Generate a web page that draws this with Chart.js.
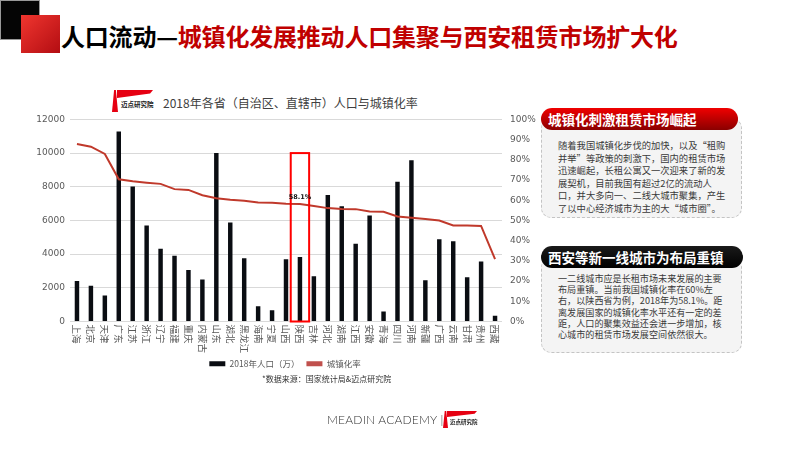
<!DOCTYPE html>
<html>
<head>
<meta charset="utf-8">
<script src="https://cdn.jsdelivr.net/npm/chart.js@4.4.0/dist/chart.umd.min.js"></script>
<style>
body{margin:0;width:800px;height:450px;position:relative;background:#fff;overflow:hidden;font-family:"Noto Sans CJK SC","Noto Sans",sans-serif}
.sq-black{position:absolute;left:0;top:0;width:40px;height:40px;background:#050505;border:1px solid #999;box-sizing:border-box}
.sq-red{position:absolute;left:21px;top:15px;width:39px;height:38px;background:linear-gradient(135deg,#f0362f,#b30d12)}
.headline{position:absolute;left:61px;top:19px;font-size:24px;font-weight:bold;line-height:34px;white-space:nowrap;color:#000;letter-spacing:-0.2px}
.headline span{color:#c00000}
.logo{position:absolute}
.logo .pole{position:absolute;background:#e60012;clip-path:polygon(35% 0,65% 0,100% 100%,0 100%)}
.logo .flag{position:absolute;background:#e60012;clip-path:polygon(0 0,100% 0,92% 45%,0 100%)}
.logo .txt{position:absolute;font-weight:bold;color:#222;white-space:nowrap}
.ctitle{position:absolute;left:163px;top:94px;font-size:12px;color:#404040;white-space:nowrap;line-height:18px}
#wrap{position:absolute;left:30px;top:106px;width:510px;height:272px}
.source{position:absolute;left:262px;top:373px;font-size:8px;color:#333;white-space:nowrap;line-height:12px}
.brand{position:absolute;left:327px;top:411px;font-family:Lato,"DejaVu Sans",sans-serif;font-weight:300;font-size:12px;color:#333;letter-spacing:0.2px;white-space:nowrap;line-height:18px}
.panel{position:absolute;left:541px;width:201px;background:#f4f4f4;border:1px dashed #c4c4c4;border-radius:10px;box-sizing:border-box}
.pill{position:absolute;left:541px;height:22px;border-radius:11px;color:#fff;font-weight:bold;font-size:13.5px;line-height:22px;padding-left:7px;box-sizing:border-box;white-space:nowrap}
.pill.red{width:197px;background:linear-gradient(180deg,#f00000,#8a0000)}
.pill.black{width:202px;background:linear-gradient(180deg,#1a1a1a,#000)}
.body{position:absolute;left:558px;color:#3a3a3a;white-space:nowrap}
</style>
</head>
<body>
<div class="sq-black"></div>
<div class="sq-red"></div>
<div class="headline">人口流动—<span>城镇化发展推动人口集聚与西安租赁市场扩大化</span></div>

<div class="logo" style="left:112px;top:89px;width:42px;height:24px">
  <div class="pole" style="left:0;top:1px;width:6px;height:22px"></div>
  <div class="flag" style="left:5px;top:1px;width:36px;height:8px"></div>
  <div class="txt" style="left:9px;top:11px;font-size:6.5px;line-height:8px">迈点研究院</div>
</div>
<div class="ctitle">2018年各省（自治区、直辖市）人口与城镇化率</div>

<div id="wrap"><canvas id="c"></canvas></div>

<div class="source">*数据来源：国家统计局&amp;迈点研究院</div>
<div class="brand">MEADIN ACADEMY |</div>
<div class="logo" style="left:443px;top:411px;width:34px;height:17px">
  <div class="pole" style="left:0;top:0;width:5px;height:17px"></div>
  <div class="flag" style="left:4px;top:0;width:30px;height:6px"></div>
  <div class="txt" style="left:7px;top:8px;font-size:5.5px;line-height:7px">迈点研究院</div>
</div>

<div class="panel" style="top:118px;height:100px"></div>
<div class="pill red" style="top:108px">城镇化刺激租赁市场崛起</div>
<div class="body" style="top:139px;font-size:9.3px;line-height:12.5px">随着我国城镇化步伐的加快，以及“租购<br>并举”等政策的刺激下，国内的租赁市场<br>迅速崛起，长租公寓又一次迎来了新的发<br>展契机，目前我国有超过2亿的流动人<br>口，并大多向一、二线大城市聚集，产生<br>了以中心经济城市为主的大“城市圈”。</div>

<div class="panel" style="top:257px;height:96px"></div>
<div class="pill black" style="top:246px">西安等新一线城市为布局重镇</div>
<div class="body" style="top:273px;font-size:9.1px;line-height:11.2px">一二线城市应是长租市场未来发展的主要<br>布局重镇。当前我国城镇化率在60%左<br>右，以陕西省为例，2018年为58.1%。距<br>离发展国家的城镇化率水平还有一定的差<br>距，人口的聚集效益还会进一步增加，核<br>心城市的租赁市场发展空间依然很大。</div>

<script>
// 省份
const provinces = ['上海', '北京', '天津', '广东', '江苏', '浙江', '辽宁', '福建', '重庆', '内蒙古',
    '山东', '湖北', '黑龙江', '海南', '宁夏', '山西', '陕西', '吉林', '河北', '湖南',
    '江西', '安徽', '青海', '四川', '河南', '新疆', '广西', '云南', '甘肃', '贵州', '西藏'];

// 2018年人口（万）
const population = [2410, 2130, 1540, 11280, 8010, 5700, 4320, 3900, 3060, 2500,
    10000, 5880, 3750, 905, 670, 3690, 3830, 2680, 7510, 6840,
    4620, 6290, 590, 8300, 9570, 2450, 4890, 4770, 2620, 3570, 340];

// 城镇化率（%）
const urbanRate = [87.8, 86.5, 82.9, 70.4, 69.4, 68.7, 68.1, 65.5, 65.1, 62.5,
    61.0, 60.2, 59.8, 58.9, 58.7, 58.3, 58.1, 57.1, 56.1, 55.7,
    55.6, 54.4, 54.3, 52.0, 51.3, 50.7, 50.0, 47.5, 47.5, 47.3, 30.9];

// 刻度
const popTicks = [0, 2000, 4000, 6000, 8000, 10000, 12000];
const rateTicks = [0, 10, 20, 30, 40, 50, 60, 70, 80, 90, 100];

// 高亮：陕西
const highlightName = '陕西';
const highlightTop = 10000;

const tickColor = '#595959';

// 竖排省份标签
const provinceLabels = {
    id: 'provinceLabels',
    afterDraw(chart) {
        const { ctx, scales: { x }, chartArea } = chart;
        ctx.save();
        ctx.fillStyle = tickColor;
        ctx.font = '9.5px "Noto Sans CJK SC"';
        ctx.textAlign = 'left';
        ctx.textBaseline = 'middle';
        provinces.forEach((p, i) => {
            ctx.save();
            ctx.translate(x.getPixelForValue(i), chartArea.bottom + 3);
            ctx.rotate(Math.PI / 2);
            ctx.fillText(p, 0, 0);
            ctx.restore();
        });
        ctx.restore();
    }
};

// 陕西红框 + 数值
const highlightBox = {
    id: 'highlightBox',
    afterDatasetsDraw(chart) {
        const { ctx, scales: { x, y, y1 } } = chart;
        const i = provinces.indexOf(highlightName);
        const cx = x.getPixelForValue(i);
        const step = x.getPixelForValue(1) - x.getPixelForValue(0);
        const top = y.getPixelForValue(highlightTop);
        const bottom = y.getPixelForValue(0);
        ctx.save();
        ctx.strokeStyle = '#ff0000';
        ctx.lineWidth = 2;
        ctx.strokeRect(cx - step * 0.66, top, step * 1.32, bottom - top);
        ctx.fillStyle = '#111';
        ctx.font = 'bold 6.5px "DejaVu Sans"';
        ctx.textAlign = 'center';
        ctx.textBaseline = 'bottom';
        ctx.fillText(urbanRate[i].toFixed(1) + '%', cx, y1.getPixelForValue(urbanRate[i]) - 4);
        ctx.restore();
    }
};

const ctx = document.getElementById('c').getContext('2d');
const chart = new Chart(ctx, {
    type: 'bar',
    data: {
        labels: provinces,
        datasets: [
            {
                label: '2018年人口（万）',
                data: population,
                backgroundColor: '#0a0d12',
                barPercentage: 0.32,
                categoryPercentage: 1,
                yAxisID: 'y',
                order: 1
            },
            {
                type: 'line',
                label: '城镇化率',
                data: urbanRate,
                borderColor: '#c0392b',
                backgroundColor: '#c0504d',
                borderWidth: 2,
                pointRadius: 0,
                tension: 0,
                yAxisID: 'y1',
                order: 0
            }
        ]
    },
    options: {
        responsive: true,
        maintainAspectRatio: false,
        animation: false,
        layout: { padding: { top: 5, bottom: 0 } },
        scales: {
            x: {
                grid: { display: false },
                border: { display: false },
                ticks: { color: 'transparent', autoSkip: false, maxRotation: 90, minRotation: 90 },
                afterFit: s => { s.height = 31; }
            },
            y: {
                position: 'left',
                min: popTicks[0],
                max: popTicks[popTicks.length - 1],
                afterBuildTicks: s => { s.ticks = popTicks.map(v => ({ value: v })); },
                grid: { color: '#d9d9d9', drawTicks: false },
                border: { display: false },
                ticks: { color: tickColor, font: { size: 9, family: 'DejaVu Sans' }, padding: 5,
                    callback: v => String(v) },
                afterFit: s => { s.width = 40; }
            },
            y1: {
                position: 'right',
                min: rateTicks[0],
                max: rateTicks[rateTicks.length - 1],
                afterBuildTicks: s => { s.ticks = rateTicks.map(v => ({ value: v })); },
                grid: { drawOnChartArea: false, drawTicks: false },
                border: { display: false },
                ticks: { color: tickColor, font: { size: 9, family: 'DejaVu Sans' }, padding: 8,
                    callback: v => v + '%' },
                afterFit: s => { s.width = 38; }
            }
        },
        plugins: {
            legend: {
                position: 'bottom',
                labels: {
                    color: tickColor,
                    font: { size: 8.5, family: 'Noto Sans CJK SC' },
                    boxWidth: 16,
                    boxHeight: 5,
                    padding: 7,
                    sort: (a, b) => a.datasetIndex - b.datasetIndex,
                    generateLabels: c => Chart.defaults.plugins.legend.labels.generateLabels(c)
                        .map(l => ({ ...l, lineWidth: 0 }))
                }
            },
            tooltip: { enabled: false }
        }
    },
    plugins: [provinceLabels, highlightBox]
});
</script>
</body>
</html>
